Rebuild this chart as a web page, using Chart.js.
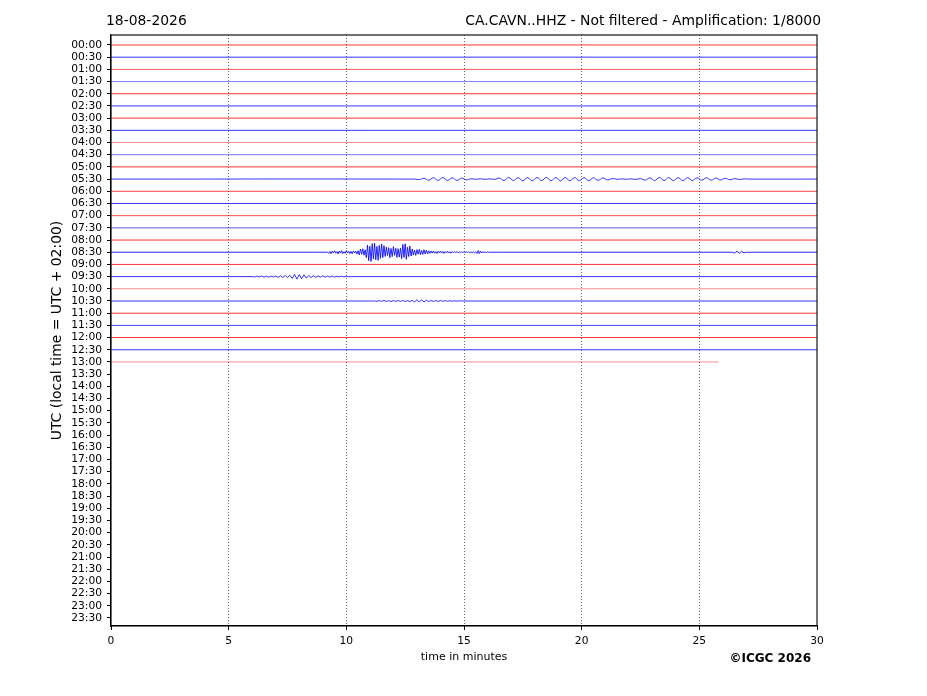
<!DOCTYPE html>
<html><head><meta charset="utf-8">
<script src="https://cdn.jsdelivr.net/npm/chart.js@4.4.0/dist/chart.umd.min.js"></script>
<style>
html,body{margin:0;padding:0;background:#fff;}
#wrap{position:relative;width:927px;height:696px;overflow:hidden;}
canvas{position:absolute;left:0;top:0;}
.t{position:absolute;font-family:"DejaVu Sans";font-size:13.9px;color:#000;white-space:nowrap;line-height:16px;}
</style></head><body>
<div id="wrap">
<canvas id="c" width="927" height="696"></canvas>
<div class="t" style="left:106px;top:12px;">18-08-2026</div>
<div class="t" style="right:106px;top:12px;">CA.CAVN..HHZ - Not filtered - Amplification: 1/8000</div>
<div class="t" style="right:116px;top:650px;font-weight:bold;font-size:12px;">©ICGC 2026</div>
</div>
<script>
// ---- data ----
const ROW_LABELS = ["00:00","00:30","01:00","01:30","02:00","02:30","03:00","03:30","04:00","04:30",
  "05:00","05:30","06:00","06:30","07:00","07:30","08:00","08:30","09:00","09:30",
  "10:00","10:30","11:00","11:30","12:00","12:30","13:00","13:30","14:00","14:30",
  "15:00","15:30","16:00","16:30","17:00","17:30","18:00","18:30","19:00","19:30",
  "20:00","20:30","21:00","21:30","22:00","22:30","23:00","23:30"];
const X_TICKS = [0,5,10,15,20,25,30];
// end minute of each recorded trace (rows 00:00 .. 13:00)
const TRACE_END = [30,30,30,30,30,30,30,30,30,30,30,30,30,30,30,30,30,30,30,30,30,30,30,30,30,30,25.8];
const TRACE_ALPHA = [0.8,0.8,0.65,0.5,0.8,0.8,0.8,0.8,0.45,0.55,0.8,0.8,0.75,0.8,0.7,0.65,0.8,0.85,0.8,0.8,0.45,0.8,0.8,0.75,0.8,0.8,0.45];
const GAIN = 0.082; // rows per count unit

// 05:30 trace, from 12.9 min, every 0.2 min
const EV_0530 = [0.5,-0.8,1.2,-1.4,1.3,-1.5,1.4,-1.2,1.3,-1.0,0.8,
  -0.3,0.2,-0.3,0.2,-0.2,0.3,
  -1.0,1.4,-1.6,1.5,-1.4,1.6,-1.5,1.7,-1.6,1.5,-1.7,1.6,-1.5,1.8,-1.6,1.7,-1.5,1.6,-1.4,1.5,-1.3,1.2,-1.1,0.9,-0.6,
  0.2,-0.2,0.2,-0.2,0.3,-0.4,
  1.0,-1.3,1.5,-1.6,1.4,-1.5,1.6,-1.4,1.5,-1.5,1.4,-1.3,1.2,-1.3,1.1,-1.0,0.9,-0.8,0.7,-0.5,0.4,-0.2];
// 08:30 trace, from 9.2 min, every 0.05 min
const EV_0830 = [1.2,-0.8,1.5,-1.1,0.6,-1.4,1.0,-0.7,1.8,-1.2,0.9,-1.6,1.3,-0.5,1.1,-1.7,0.8,-1.0,1.4,-0.9,1.6,-1.3,0.7,-1.1,1.9,-1.5,
  2.6,-3.2,2.1,-3.5,3.0,-2.4,
  5.5,-7.2,8.4,-6.1,9.2,-8.6,6.8,-9.0,7.5,-5.8,8.1,-7.0,6.2,-8.3,5.4,-6.6,
  4.2,-5.1,3.3,-4.6,5.5,-3.8,4.4,-5.6,3.1,-4.0,5.2,-3.6,4.8,-4.1,
  6.5,-7.8,5.2,-8.4,7.1,-5.0,4.3,-6.2,3.8,-3.2,
  2.8,-2.1,3.2,-2.6,1.9,-2.9,2.4,-1.7,2.2,-2.5,1.6,-2.0,1.8,-1.4,
  1.1,-1.3,0.8,-1.2,1.0,-0.7,1.3,-0.9,0.6,-1.1,0.9,-0.8,1.2,-0.6,0.7,-1.0,0.8,-0.5,0.9,-0.7,
  0.5,-0.6,0.4,-0.7,0.5,-0.4,0.6,-0.5,0.4,-0.6,0.4,-0.5,0.3,-0.5,0.4,-0.3,0.5,-0.4,0.6,-0.5,1.2,-1.6,1.4,-1.1,0.8,-0.6,0.4,-0.3,0.3,-0.2];
// 08:30 trace, late burst from 26.4 min, every 0.1 min
const EV_0830B = [0.8,-1,1,-0.8,0.6];
// 09:30 trace, from 6.0 min, every 0.1 min
const EV_0930 = [0.4,-0.5,0.3,-0.6,0.5,-0.4,0.6,-0.5,0.4,-0.6,
  0.8,-1,0.9,-1.2,1,-1.3,1.8,-2.2,2.5,-2,
  2.2,-1.8,1.5,-1.2,1,-0.9,0.8,-0.7,0.6,-0.8,
  0.5,-0.6,0.4,-0.5,0.5,-0.4,0.3,-0.4,0.3,-0.2];
// 10:30 trace, from 11.2 min, every 0.1 min
const EV_1030 = [0.3,-0.4,0.3,-0.5,0.4,-0.3,0.5,-0.4,0.4,-0.5,0.5,-0.6,0.5,-0.4,0.6,-0.7,
  1,-1.2,1.1,-1.3,1,-0.8,0.6,-0.5,0.5,-0.4,0.4,-0.5,0.3,-0.4,0.3,-0.3,0.3,-0.2,0.2,-0.2];
const EVENTS = [
  {row:11, start:12.9, step:0.2, values:EV_0530},
  {row:17, start:9.2, step:0.05, values:EV_0830},
  {row:17, start:26.4, step:0.1, values:EV_0830B},
  {row:19, start:6.0, step:0.1, values:EV_0930},
  {row:21, start:11.2, step:0.1, values:EV_1030}
];

// ---- build datasets ----
const datasets = TRACE_END.map((end, r) => {
  const pts = [{x:0, y:r}];
  EVENTS.filter(e => e.row === r).sort((a,b)=>a.start-b.start).forEach(e => {
    pts.push({x:e.start, y:r});
    e.values.forEach((v,i) => pts.push({x:e.start + (i+1)*e.step, y:r + v*GAIN}));
    pts.push({x:e.start + (e.values.length+1)*e.step, y:r});
  });
  pts.push({x:end, y:r});
  const a = TRACE_ALPHA[r];
  return {
    data: pts,
    borderColor: r % 2 === 0 ? `rgba(255,0,0,${a})` : `rgba(0,0,255,${a})`,
    borderWidth: 1,
    pointRadius: 0,
    tension: r === 11 ? 0.4 : 0
  };
});

const frame = {
  id:'frame',
  afterDraw(chart){
    const {ctx, chartArea:{left,top,right,bottom}} = chart;
    ctx.save();
    ctx.setLineDash([]);
    ctx.strokeStyle = '#000';
    ctx.lineWidth = 1.1;
    ctx.strokeRect(left, top, right-left, bottom-top);
    ctx.restore();
  }
};

Chart.defaults.font.family = "DejaVu Sans";
Chart.defaults.color = '#000';

new Chart(document.getElementById('c'), {
  type:'line',
  data:{datasets},
  options:{
    responsive:false,
    animation:false,
    devicePixelRatio:1,
    layout:{padding:{top:35, right:110, bottom:0, left:0}},
    plugins:{legend:{display:false}, tooltip:{enabled:false}},
    scales:{
      x:{
        type:'linear', min:0, max:30,
        afterBuildTicks: s => { s.ticks = X_TICKS.map(v=>({value:v})); },
        afterFit: s => { s.height = 70; },
        ticks:{font:{size:10.7}, padding:5, maxRotation:0, color:'#000'},
        grid:{
          color: c => (c.tick && (c.tick.value === 0 || c.tick.value === 30)) ? 'rgba(0,0,0,0)' : 'rgba(0,0,0,0.75)',
          lineWidth:0.8, tickLength:4, tickColor:'#000', tickWidth:1, tickBorderDash:[]
        },
        border:{display:true, color:'#000', width:1.1, dash:[1,2]},
        title:{display:true, text:'time in minutes', font:{size:11}, padding:{top:0, bottom:32}, color:'#000'}
      },
      y:{
        type:'linear', reverse:true, min:-0.82, max:47.66,
        afterBuildTicks: s => { s.ticks = ROW_LABELS.map((_,i)=>({value:i})); },
        afterFit: s => { s.width = 111; },
        ticks:{font:{size:10.7}, padding:5, autoSkip:false, color:'#000', callback: v => ROW_LABELS[v]},
        grid:{drawOnChartArea:false, tickLength:4, tickColor:'#000', tickWidth:1},
        border:{display:true, color:'#000', width:1.1},
        title:{display:true, text:'UTC (local time = UTC + 02:00)', font:{size:13.9}, padding:{top:49, bottom:0}, color:'#000'}
      }
    }
  },
  plugins:[frame]
});
</script>
</body></html>
